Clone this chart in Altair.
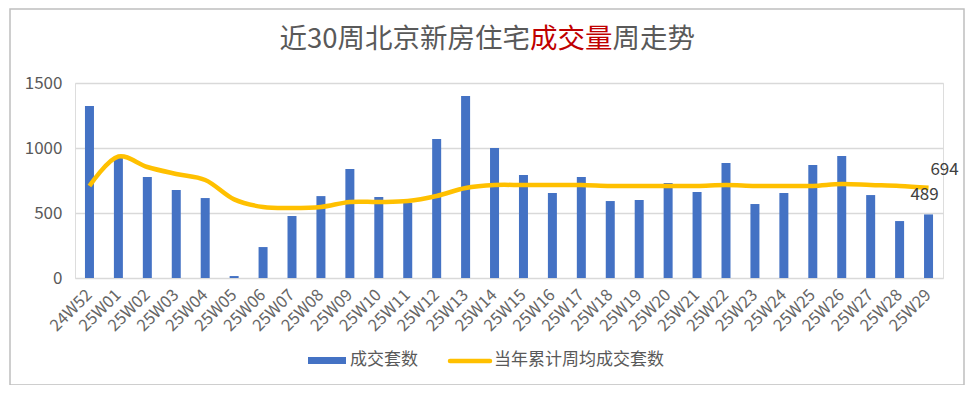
import altair as alt
import pandas as pd

weeks = ["24W52", "25W01", "25W02", "25W03", "25W04", "25W05", "25W06", "25W07",
         "25W08", "25W09", "25W10", "25W11", "25W12", "25W13", "25W14", "25W15",
         "25W16", "25W17", "25W18", "25W19", "25W20", "25W21", "25W22", "25W23",
         "25W24", "25W25", "25W26", "25W27", "25W28", "25W29"]
deals = [1323, 925, 777, 677, 615, 15, 238, 477, 630, 838, 623, 577, 1069, 1400,
         1000, 792, 654, 777, 592, 600, 731, 661, 885, 569, 654, 869, 938, 638,
         438, 489]
avg_deals = [708, 935, 854, 800, 754, 605, 546, 538, 546, 585, 585, 592, 631, 692,
             715, 715, 715, 715, 708, 708, 708, 708, 715, 708, 708, 708, 723, 715,
             708, 694]
y_ticks = [0, 500, 1000, 1500]

title_parts = ["近30周北京新房住宅", "成交量", "周走势"]
legend_labels = ["成交套数", "当年累计周均成交套数"]

BLUE = "#4472C4"
GOLD = "#FFC000"
GREY = "#595959"
FONT = "Noto Sans CJK SC"

df = pd.DataFrame({"week": weeks, "deals": deals, "avg": avg_deals})
last = df.tail(1)
one = pd.DataFrame({"k": [0]})

xenc = alt.X("week:N", sort=weeks, title=None,
             scale=alt.Scale(paddingInner=0, paddingOuter=0),
             axis=alt.Axis(labelAngle=-45, labelAlign="right", labelBaseline="middle",
                           labelFontSize=16.5, labelColor="#666666", labelFont=FONT,
                           labelPadding=14, ticks=False, domain=False, grid=False))
yscale = alt.Scale(domain=[0, 1500], nice=False)

base = alt.Chart(df)

bars = base.mark_bar(size=9, color=BLUE).encode(
    x=xenc,
    y=alt.Y("deals:Q", scale=yscale, title=None,
            axis=alt.Axis(values=y_ticks, format="d", labelFontSize=17, labelColor=GREY,
                          labelFont=FONT, labelPadding=13, ticks=False, domain=False,
                          gridColor="#D9D9D9", gridWidth=1.3)),
)

line = base.mark_line(color=GOLD, strokeWidth=4.5, interpolate="catmull-rom").encode(
    x=alt.X("week:N", sort=weeks),
    y=alt.Y("avg:Q", scale=yscale),
)

lab_avg = alt.Chart(last).mark_text(fontSize=17, color="#404040", font=FONT,
                                    dx=16, dy=-18).encode(
    x=alt.X("week:N", sort=weeks), y=alt.Y("avg:Q", scale=yscale), text="avg:Q")
lab_deal = alt.Chart(last).mark_text(fontSize=17, color="#404040", font=FONT,
                                     dx=-4, dy=-19).encode(
    x=alt.X("week:N", sort=weeks), y=alt.Y("deals:Q", scale=yscale), text="deals:Q")

oc = alt.Chart(one)
border = oc.mark_rect(fill=None, stroke="#BFBFBF", strokeWidth=1.5).encode(
    x=alt.value(-65), x2=alt.value(889), y=alt.value(-74), y2=alt.value(302))

TS = 27.5
t1 = oc.mark_text(fontSize=TS, color=GREY, font=FONT, align="right", baseline="middle").encode(
    x=alt.value(455), y=alt.value(-43), text=alt.value(title_parts[0]))
t2 = oc.mark_text(fontSize=TS, color="#C00000", font=FONT, align="left", baseline="middle").encode(
    x=alt.value(455), y=alt.value(-43), text=alt.value(title_parts[1]))
t3 = oc.mark_text(fontSize=TS, color=GREY, font=FONT, align="left", baseline="middle").encode(
    x=alt.value(455 + 3 * TS), y=alt.value(-43), text=alt.value(title_parts[2]))

leg_rect = oc.mark_rect(color=BLUE).encode(
    x=alt.value(233), x2=alt.value(271), y=alt.value(274), y2=alt.value(281))
leg_t1 = oc.mark_text(fontSize=17, color=GREY, font=FONT, align="left", baseline="middle").encode(
    x=alt.value(275), y=alt.value(277), text=alt.value(legend_labels[0]))
leg_line = oc.mark_rule(color=GOLD, strokeWidth=4.5, strokeCap="round").encode(
    x=alt.value(375), x2=alt.value(415), y=alt.value(278))
leg_t2 = oc.mark_text(fontSize=17, color=GREY, font=FONT, align="left", baseline="middle").encode(
    x=alt.value(419), y=alt.value(277), text=alt.value(legend_labels[1]))

chart = alt.layer(
    border, bars, line, lab_avg, lab_deal, t1, t2, t3, leg_rect, leg_t1, leg_line, leg_t2
).properties(
    width=868, height=195,
    padding={"left": 67, "top": 75, "right": 22, "bottom": 107},
    autosize=alt.AutoSizeParams(type="none"),
).configure_view(stroke=None).configure(background="white")

chart.save("out.html", embed_options={"renderer": "svg", "actions": False})
